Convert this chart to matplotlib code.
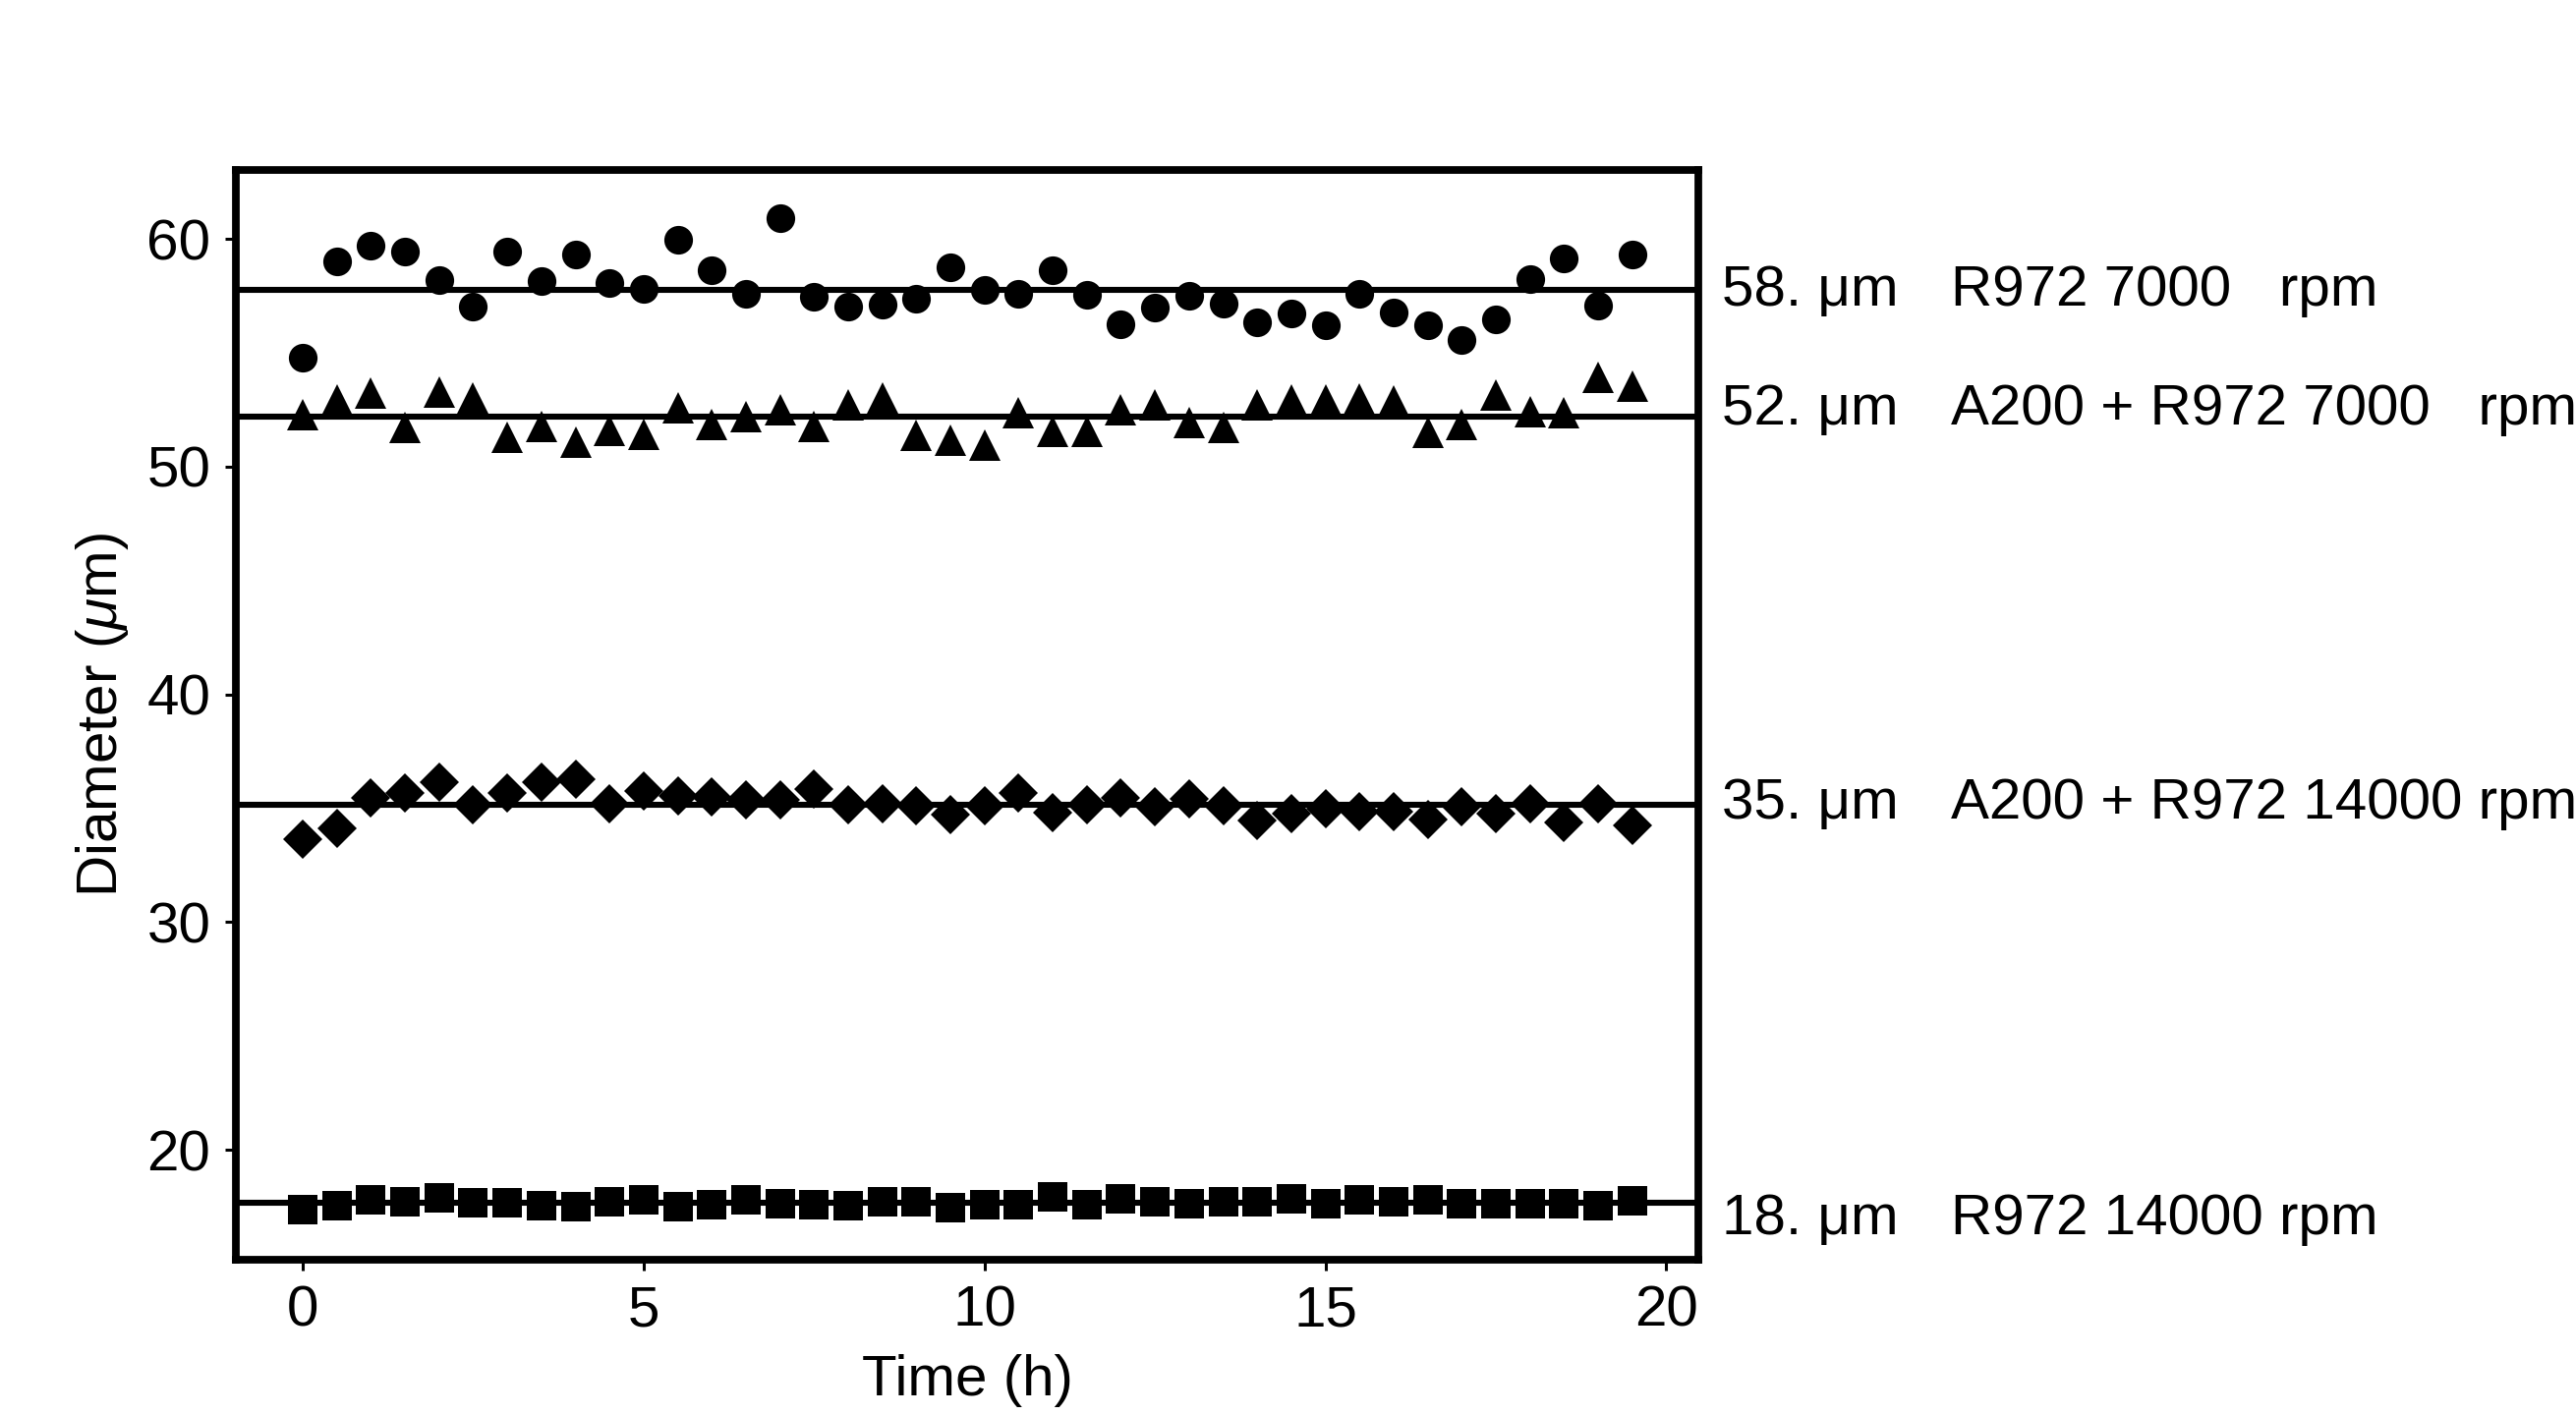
import numpy as np
import matplotlib
matplotlib.use("Agg")
import matplotlib.pyplot as plt

plt.rcParams['font.family'] = ['Liberation Sans', 'DejaVu Sans']
plt.rcParams['mathtext.fontset'] = 'custom'
plt.rcParams['mathtext.rm'] = 'Liberation Sans'
plt.rcParams['mathtext.it'] = 'Liberation Sans:italic'

# sampling times (h)
time_h = np.arange(0, 20, 0.5)

# R972 7000 rpm (circles)
d_r972_7000 = [54.76, 59.0, 59.68, 59.44, 58.17, 57.02, 59.46, 58.14, 59.30, 58.07,
               57.82, 59.96, 58.64, 57.59, 60.90, 57.45, 57.03, 57.11, 57.35, 58.77,
               57.77, 57.58, 58.62, 57.52, 56.26, 56.99, 57.51, 57.16, 56.33, 56.73,
               56.22, 57.59, 56.78, 56.19, 55.54, 56.48, 58.25, 59.15, 57.08, 59.30]

# A200 + R972 7000 rpm (triangles)
d_a200_7000 = [52.29, 52.94, 53.22, 51.72, 53.28, 53.02, 51.29, 51.76, 51.05, 51.58,
               51.42, 52.58, 51.83, 52.20, 52.49, 51.76, 52.71, 52.99, 51.36, 51.15,
               50.93, 52.36, 51.55, 51.55, 52.50, 52.72, 51.93, 51.70, 52.69, 52.94,
               52.92, 52.97, 52.87, 51.48, 51.86, 53.14, 52.41, 52.36, 53.93, 53.51]

# A200 + R972 14000 rpm (diamonds)
d_a200_14000 = [33.62, 34.12, 35.43, 35.65, 36.16, 35.16, 35.65, 36.13, 36.25, 35.19,
                35.75, 35.53, 35.49, 35.38, 35.38, 35.82, 35.14, 35.18, 35.12, 34.71,
                35.12, 35.65, 34.80, 35.16, 35.44, 35.08, 35.40, 35.10, 34.46, 34.75,
                34.99, 34.86, 34.85, 34.50, 35.04, 34.76, 35.20, 34.35, 35.19, 34.22]

# R972 14000 rpm (squares)
d_r972_14000 = [17.36, 17.54, 17.81, 17.73, 17.90, 17.67, 17.68, 17.54, 17.50, 17.73,
                17.80, 17.51, 17.60, 17.78, 17.61, 17.58, 17.55, 17.71, 17.73, 17.46,
                17.58, 17.60, 17.93, 17.60, 17.83, 17.70, 17.64, 17.73, 17.73, 17.84,
                17.64, 17.80, 17.70, 17.81, 17.61, 17.64, 17.64, 17.64, 17.53, 17.76]

# mean lines and their labels
mean_values = [57.75, 52.2, 35.16, 17.67]
size_labels = ["58. μm", "52. μm", "35. μm", "18. μm"]
case_labels = ["R972 7000   rpm", "A200 + R972 7000   rpm",
               "A200 + R972 14000 rpm", "R972 14000 rpm"]
label_baselines = [57.05, 51.85, 34.55, 16.30]

fig = plt.figure(figsize=(13.105, 7.2), dpi=200)
ax = fig.add_axes([0.0916, 0.1099, 0.5677, 0.7701])

series = [(d_r972_7000, 'o', 10.5), (d_a200_7000, '^', 11.5),
          (d_a200_14000, 'D', 10.4), (d_r972_14000, 's', 10.6)]
for vals, mk, ms in series:
    ax.plot(time_h, vals, linestyle='none', marker=mk, markersize=ms,
            color='black', markeredgewidth=0, zorder=3)

for m in mean_values:
    ax.axhline(m, color='black', linewidth=2.2, zorder=2)

tr = ax.get_yaxis_transform()
for yb, s1, s2 in zip(label_baselines, size_labels, case_labels):
    ax.text(1.0161, yb, s1, transform=tr, fontsize=21, va='baseline', ha='left', clip_on=False)
    ax.text(1.1727, yb, s2, transform=tr, fontsize=21, va='baseline', ha='left', clip_on=False)

ax.set_xlim(-0.98, 20.47)
ax.set_ylim(15.18, 63.03)
ax.set_xticks([0, 5, 10, 15, 20])
ax.set_yticks([20, 30, 40, 50, 60])
ax.tick_params(direction='out', length=3.8, width=1.1, pad=5.5, labelsize=21)
for sp in ax.spines.values():
    sp.set_linewidth(2.8)

ax.set_xlabel("Time (h)", fontsize=21, labelpad=6)
ax.set_ylabel("Diameter ($\\mu$m)", fontsize=21, labelpad=6)

fig.savefig("out.png", dpi=200)
